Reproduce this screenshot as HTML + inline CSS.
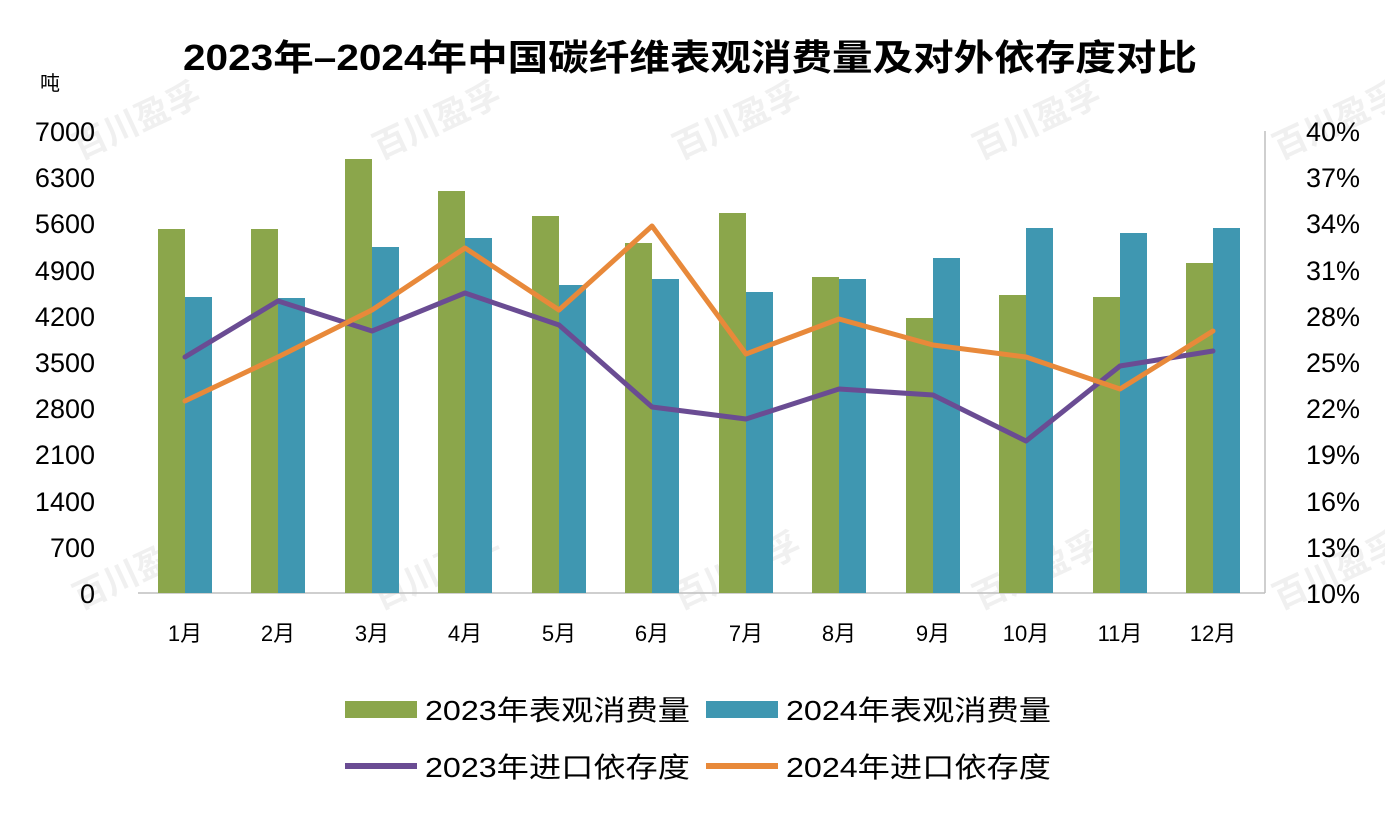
<!DOCTYPE html>
<html><head><meta charset="utf-8"><style>
body{margin:0;background:#fff;}
svg text{font-family:"Liberation Sans","Noto Sans CJK SC",sans-serif;}
</style></head><body>
<svg width="1385" height="815" viewBox="0 0 1385 815" xmlns="http://www.w3.org/2000/svg">
<rect width="1385" height="815" fill="#fff"/>
<g fill="#f0f0f0" font-size="34" font-weight="bold">
<text x="80" y="160" transform="rotate(-25 80 160)">百川盈孚</text>
<text x="380" y="160" transform="rotate(-25 380 160)">百川盈孚</text>
<text x="680" y="160" transform="rotate(-25 680 160)">百川盈孚</text>
<text x="980" y="160" transform="rotate(-25 980 160)">百川盈孚</text>
<text x="1280" y="160" transform="rotate(-25 1280 160)">百川盈孚</text>
<text x="80" y="610" transform="rotate(-25 80 610)">百川盈孚</text>
<text x="380" y="610" transform="rotate(-25 380 610)">百川盈孚</text>
<text x="680" y="610" transform="rotate(-25 680 610)">百川盈孚</text>
<text x="980" y="610" transform="rotate(-25 980 610)">百川盈孚</text>
<text x="1280" y="610" transform="rotate(-25 1280 610)">百川盈孚</text>
</g>
<text x="183" y="70" font-size="36" font-weight="bold" fill="#000" textLength="1014" lengthAdjust="spacingAndGlyphs">2023年–2024年中国碳纤维表观消费量及对外依存度对比</text>
<text x="40" y="90" font-size="20" fill="#000">吨</text>
<g font-size="27" fill="#000" text-anchor="end">
<text x="95" y="141">7000</text><text x="95" y="187">6300</text><text x="95" y="233">5600</text>
<text x="95" y="280">4900</text><text x="95" y="326">4200</text><text x="95" y="372">3500</text>
<text x="95" y="418">2800</text><text x="95" y="464">2100</text><text x="95" y="511">1400</text>
<text x="95" y="557">700</text><text x="95" y="603">0</text>
</g>
<g font-size="27" fill="#000" text-anchor="end">
<text x="1360" y="141">40%</text><text x="1360" y="187">37%</text><text x="1360" y="233">34%</text>
<text x="1360" y="280">31%</text><text x="1360" y="326">28%</text><text x="1360" y="372">25%</text>
<text x="1360" y="418">22%</text><text x="1360" y="464">19%</text><text x="1360" y="511">16%</text>
<text x="1360" y="557">13%</text><text x="1360" y="603">10%</text>
</g>
<line x1="1265" y1="131" x2="1265" y2="593" stroke="#bfbfbf" stroke-width="1.5"/>
<line x1="138" y1="593" x2="1265" y2="593" stroke="#bfbfbf" stroke-width="1.5"/>
<g fill="#8ba64b">
<rect x="158" y="229" width="27" height="364"/><rect x="251" y="229" width="27" height="364"/>
<rect x="345" y="159" width="27" height="434"/><rect x="438" y="191" width="27" height="402"/>
<rect x="532" y="216" width="27" height="377"/><rect x="625" y="243" width="27" height="350"/>
<rect x="719" y="213" width="27" height="380"/><rect x="812" y="277" width="27" height="316"/>
<rect x="906" y="318" width="27" height="275"/><rect x="999" y="295" width="27" height="298"/>
<rect x="1093" y="297" width="27" height="296"/><rect x="1186" y="263" width="27" height="330"/>
</g>
<g fill="#3f97b1">
<rect x="185" y="297" width="27" height="296"/><rect x="278" y="298" width="27" height="295"/>
<rect x="372" y="247" width="27" height="346"/><rect x="465" y="238" width="27" height="355"/>
<rect x="559" y="285" width="27" height="308"/><rect x="652" y="279" width="27" height="314"/>
<rect x="746" y="292" width="27" height="301"/><rect x="839" y="279" width="27" height="314"/>
<rect x="933" y="258" width="27" height="335"/><rect x="1026" y="228" width="27" height="365"/>
<rect x="1120" y="233" width="27" height="360"/><rect x="1213" y="228" width="27" height="365"/>
</g>
<polyline fill="none" stroke="#6a4c93" stroke-width="5" stroke-linejoin="round" stroke-linecap="round"
points="185,357 278,301 372,331 465,293 559,325 652,407 746,419 839,389 933,395 1026,441 1120,366 1213,351"/>
<polyline fill="none" stroke="#e8893a" stroke-width="5" stroke-linejoin="round" stroke-linecap="round"
points="185,401 278,357 372,310 465,248 559,310 652,226 746,354 839,319 933,345 1026,357 1120,389 1213,331"/>
<g font-size="22" fill="#000" text-anchor="middle">
<text x="185" y="641">1月</text><text x="278" y="641">2月</text><text x="372" y="641">3月</text>
<text x="465" y="641">4月</text><text x="559" y="641">5月</text><text x="652" y="641">6月</text>
<text x="746" y="641">7月</text><text x="839" y="641">8月</text><text x="933" y="641">9月</text>
<text x="1026" y="641">10月</text><text x="1120" y="641">11月</text><text x="1213" y="641">12月</text>
</g>
<rect x="345" y="701" width="72" height="17" fill="#8ba64b"/>
<text x="425" y="720" font-size="28" fill="#000" textLength="265" lengthAdjust="spacingAndGlyphs">2023年表观消费量</text>
<rect x="706" y="701" width="72" height="17" fill="#3f97b1"/>
<text x="786" y="720" font-size="28" fill="#000" textLength="265" lengthAdjust="spacingAndGlyphs">2024年表观消费量</text>
<line x1="345" y1="766" x2="417" y2="766" stroke="#6a4c93" stroke-width="6"/>
<text x="425" y="777" font-size="28" fill="#000" textLength="265" lengthAdjust="spacingAndGlyphs">2023年进口依存度</text>
<line x1="706" y1="766" x2="778" y2="766" stroke="#e8893a" stroke-width="6"/>
<text x="786" y="777" font-size="28" fill="#000" textLength="265" lengthAdjust="spacingAndGlyphs">2024年进口依存度</text>
</svg>
</body></html>
